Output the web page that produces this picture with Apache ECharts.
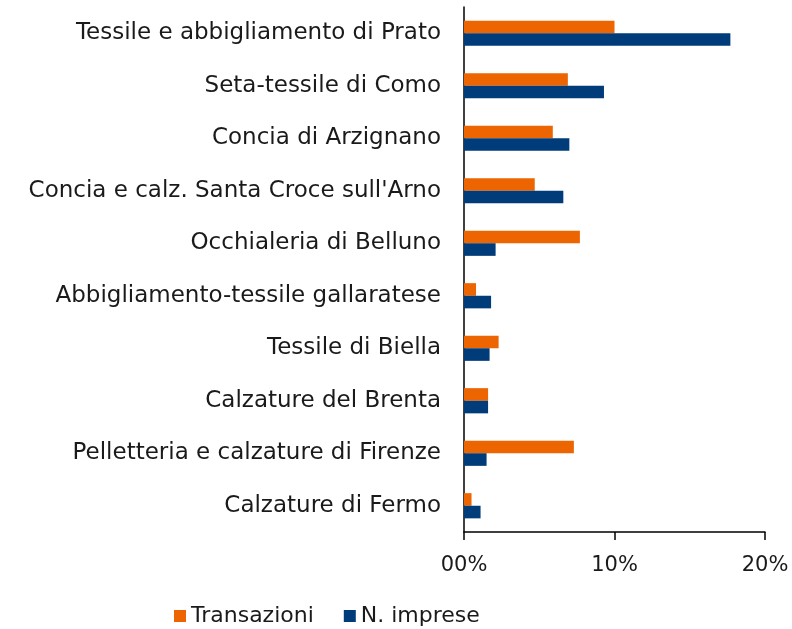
<!DOCTYPE html>
<html><head><meta charset="utf-8">
<script src="https://cdn.jsdelivr.net/npm/echarts@6/dist/echarts.min.js"></script>
<style>html,body{margin:0;padding:0;background:#fff}#c{width:792px;height:629px}</style>
</head><body><div id="c"></div>
<script>
const categories = [
  "Tessile e abbigliamento di Prato",
  "Seta-tessile di Como",
  "Concia di Arzignano",
  "Concia e calz. Santa Croce sull'Arno",
  "Occhialeria di Belluno",
  "Abbigliamento-tessile gallaratese",
  "Tessile di Biella",
  "Calzature del Brenta",
  "Pelletteria e calzature di Firenze",
  "Calzature di Fermo"
];
const transazioni = [10.0, 6.9, 5.9, 4.7, 7.7, 0.8, 2.3, 1.6, 7.3, 0.5];
const imprese = [17.7, 9.3, 7.0, 6.6, 2.1, 1.8, 1.7, 1.6, 1.5, 1.1];
const tickValues = [0, 10, 20];
const tickLabels = ["00%", "10%", "20%"];

const FONT = "DejaVu Sans";
const chart = echarts.init(document.getElementById('c'), null, {renderer: 'canvas'});
chart.setOption({
  animation: false,
  backgroundColor: '#fff',
  textStyle: {fontFamily: FONT},
  grid: {left: 464, right: 27, top: 7, bottom: 97, containLabel: false},
  legend: {
    data: ['Transazioni', 'N. imprese'],
    left: 169, top: 600, padding: 5,
    itemWidth: 12, itemHeight: 12, itemGap: 30,
    icon: 'rect',
    textStyle: {fontFamily: FONT, fontSize: 22, lineHeight: 22, color: '#1a1a1a'}
  },
  xAxis: {
    type: 'value', min: 0, max: 20, interval: 10,
    axisLine: {show: true, lineStyle: {color: '#000', width: 1.5}},
    axisTick: {show: true, length: 8, lineStyle: {color: '#000', width: 1.5}},
    splitLine: {show: false},
    axisLabel: {
      fontFamily: FONT, fontSize: 21, color: '#1a1a1a', margin: 23,
      formatter: v => { const i = tickValues.indexOf(v); return i >= 0 ? tickLabels[i] : ''; }
    }
  },
  yAxis: {
    type: 'category', data: categories, inverse: true,
    axisLine: {show: true, lineStyle: {color: '#000', width: 1.5}},
    axisTick: {show: false},
    axisLabel: {fontFamily: FONT, fontSize: 23, color: '#1a1a1a', margin: 23}
  },
  series: [
    {name: 'Transazioni', type: 'bar', data: transazioni, barGap: '0%', barCategoryGap: '52%',
     itemStyle: {color: '#EC6500'}},
    {name: 'N. imprese', type: 'bar', data: imprese, barGap: '0%', barCategoryGap: '52%',
     itemStyle: {color: '#003B7A'}}
  ]
});
</script></body></html>
